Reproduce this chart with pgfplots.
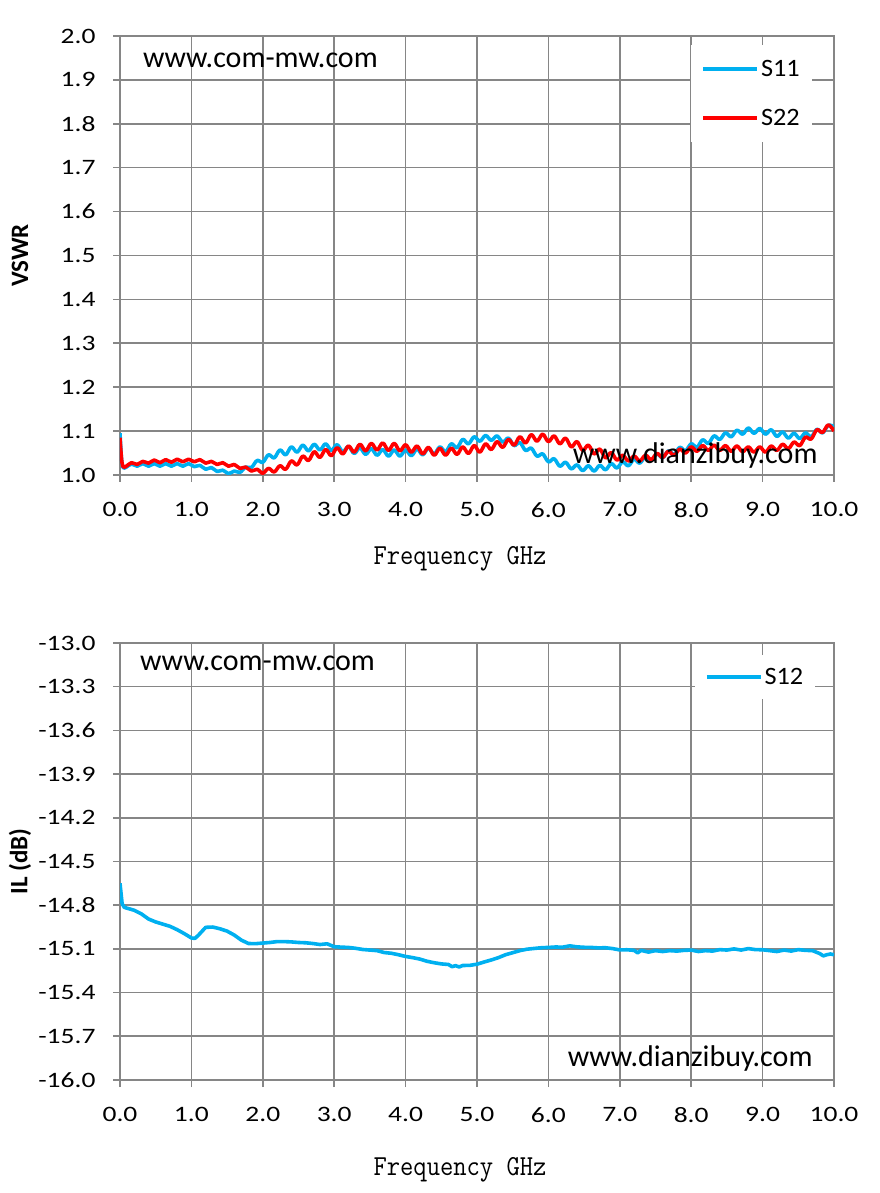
\documentclass[border=0pt]{standalone}
\usepackage{fontspec}
\setmainfont{Carlito}
\newfontfamily\tickfont{Carlito}[FakeStretch=1.25]
\newfontfamily\legfont{Carlito}[FakeStretch=1.05]
\usepackage{graphicx}
\usepackage{pgfplots}
\pgfplotsset{compat=1.18}
\definecolor{gridgray}{HTML}{868686}
\definecolor{sblue}{HTML}{00B0F0}
\definecolor{sred}{HTML}{FF0000}
\pgfplotsset{base/.style={
  scale only axis, width=714pt, xmin=0, xmax=10,
  xtick={0,1,2,3,4,5,6,7,8,9,10},
  grid=major, grid style={color=gridgray, line width=1.6pt},
  axis line style={gridgray, line width=1.6pt},
  tick style={gridgray, line width=1.6pt},
  major tick length=7pt, tick align=outside, tick pos=left,
  /pgf/number format/assume math mode=true,
  /pgf/number format/.cd, fixed, fixed zerofill, precision=1, /pgfplots/.cd,
  ticklabel style={font=\tickfont\fontsize{22}{24}\selectfont},
  yticklabel style={xshift=-14pt},
  xticklabel style={yshift=-17pt},
  ylabel style={at={(rel axis cs:0,0.5)}, anchor=center, yshift=100pt, font=\bfseries\fontsize{25}{28}\selectfont},
  xlabel style={at={(rel axis cs:0.5,0)}, anchor=center, xshift=-17pt, font=\fontsize{29}{30}\selectfont\ttfamily},
  legend style={draw=none, fill=white, anchor=north west, font=\legfont\fontsize{25}{28}\selectfont, inner xsep=10pt, inner ysep=13pt, row sep=27pt, column sep=0pt, cells={anchor=west}},
  legend image code/.code={\draw[#1, line width=3.6pt] (0pt,0pt) -- (54pt,0pt);},
}}
\begin{document}
\begin{tikzpicture}
\path[use as bounding box] (0,0) rectangle (879pt,1193pt);
\begin{axis}[base, at={(120pt,718pt)}, anchor=south west, height=439pt,
  ymin=1, ymax=2, ytick={1,1.1,1.2,1.3,1.4,1.5,1.6,1.7,1.8,1.9,2},
  ylabel={VSWR}, xlabel={\scalebox{0.89}[1]{Frequency GHz}},
  xlabel style={yshift=-84pt},
  legend style={at={(rel axis cs:0.80,0.979)}}]
\addplot[sblue, line width=3.6pt, smooth, tension=0.6, line join=round] coordinates {
(0,1.095)(0.02,1.040)(0.04,1.018)(0.08,1.017)(0.16,1.025)(0.24,1.020)(0.32,1.026)(0.40,1.020)(0.48,1.026)(0.56,1.020)(0.64,1.026)(0.72,1.020)(0.80,1.026)(0.88,1.020)(0.96,1.026)
(1.04,1.019)(1.12,1.022)(1.20,1.013)(1.28,1.017)(1.36,1.008)(1.44,1.011)(1.52,1.003)(1.60,1.009)(1.68,1.006)(1.76,1.018)(1.84,1.017)(1.92,1.033)
(2.00,1.029)(2.08,1.046)(2.16,1.039)(2.24,1.057)(2.32,1.046)(2.40,1.064)(2.48,1.052)(2.56,1.068)(2.64,1.055)(2.72,1.070)(2.80,1.057)(2.88,1.071)(2.96,1.056)
(3.04,1.069)(3.12,1.053)(3.20,1.065)(3.28,1.049)(3.36,1.062)(3.44,1.047)(3.52,1.060)(3.60,1.045)(3.68,1.058)(3.76,1.043)(3.84,1.057)(3.92,1.043)
(4.00,1.057)(4.08,1.044)(4.16,1.059)(4.24,1.046)(4.32,1.061)(4.40,1.048)(4.48,1.064)(4.56,1.053)(4.64,1.071)(4.72,1.062)(4.80,1.081)(4.88,1.071)(4.96,1.087)
(5.04,1.077)(5.12,1.090)(5.20,1.079)(5.28,1.089)(5.36,1.075)(5.44,1.084)(5.52,1.067)(5.60,1.074)(5.68,1.056)(5.76,1.061)(5.84,1.043)(5.92,1.048)
(6.00,1.030)(6.08,1.037)(6.16,1.020)(6.24,1.029)(6.32,1.014)(6.40,1.023)(6.48,1.010)(6.56,1.021)(6.64,1.009)(6.72,1.022)(6.80,1.012)(6.88,1.026)(6.96,1.016)
(7.04,1.030)(7.12,1.021)(7.20,1.036)(7.28,1.027)(7.36,1.042)(7.44,1.033)(7.52,1.048)(7.60,1.039)(7.68,1.055)(7.76,1.047)(7.84,1.063)(7.92,1.055)
(8.00,1.071)(8.08,1.063)(8.16,1.080)(8.24,1.072)(8.32,1.089)(8.40,1.081)(8.48,1.096)(8.56,1.087)(8.64,1.102)(8.72,1.093)(8.80,1.107)(8.88,1.095)(8.96,1.106)
(9.04,1.093)(9.12,1.103)(9.20,1.088)(9.28,1.098)(9.36,1.084)(9.44,1.095)(9.52,1.083)(9.60,1.096)(9.68,1.087)(9.76,1.104)(9.84,1.096)(9.92,1.113)(10.00,1.110)
};
\addlegendentry{S11}
\addplot[sred, line width=3.6pt, smooth, tension=0.6, line join=round] coordinates {
(0,1.085)(0.02,1.040)(0.04,1.020)(0.08,1.019)(0.16,1.028)(0.24,1.024)(0.32,1.031)(0.40,1.027)(0.48,1.034)(0.56,1.028)(0.64,1.035)(0.72,1.029)(0.80,1.036)(0.88,1.030)(0.96,1.036)
(1.04,1.030)(1.12,1.035)(1.20,1.027)(1.28,1.031)(1.36,1.024)(1.44,1.028)(1.52,1.020)(1.60,1.024)(1.68,1.015)(1.76,1.018)(1.84,1.009)(1.92,1.013)
(2.00,1.004)(2.08,1.015)(2.16,1.007)(2.24,1.021)(2.32,1.013)(2.40,1.032)(2.48,1.023)(2.56,1.043)(2.64,1.033)(2.72,1.053)(2.80,1.040)(2.88,1.058)(2.96,1.044)
(3.04,1.062)(3.12,1.048)(3.20,1.066)(3.28,1.052)(3.36,1.070)(3.44,1.055)(3.52,1.072)(3.60,1.057)(3.68,1.073)(3.76,1.056)(3.84,1.072)(3.92,1.055)
(4.00,1.069)(4.08,1.052)(4.16,1.066)(4.24,1.048)(4.32,1.063)(4.40,1.045)(4.48,1.061)(4.56,1.045)(4.64,1.061)(4.72,1.047)(4.80,1.064)(4.88,1.049)(4.96,1.067)
(5.04,1.052)(5.12,1.071)(5.20,1.058)(5.28,1.076)(5.36,1.063)(5.44,1.081)(5.52,1.068)(5.60,1.087)(5.68,1.073)(5.76,1.092)(5.84,1.077)(5.92,1.093)
(6.00,1.076)(6.08,1.089)(6.16,1.071)(6.24,1.084)(6.32,1.064)(6.40,1.076)(6.48,1.056)(6.56,1.068)(6.64,1.048)(6.72,1.059)(6.80,1.039)(6.88,1.051)(6.96,1.034)
(7.04,1.045)(7.12,1.032)(7.20,1.043)(7.28,1.032)(7.36,1.045)(7.44,1.035)(7.52,1.049)(7.60,1.040)(7.68,1.054)(7.76,1.045)(7.84,1.059)(7.92,1.050)
(8.00,1.064)(8.08,1.054)(8.16,1.067)(8.24,1.056)(8.32,1.068)(8.40,1.056)(8.48,1.067)(8.56,1.054)(8.64,1.066)(8.72,1.053)(8.80,1.064)(8.88,1.052)(8.96,1.064)
(9.04,1.052)(9.12,1.066)(9.20,1.056)(9.28,1.070)(9.36,1.060)(9.44,1.075)(9.52,1.067)(9.60,1.086)(9.68,1.082)(9.76,1.103)(9.84,1.097)(9.92,1.114)(10.00,1.100)
};
\addlegendentry{S22}
\node[anchor=base west, inner sep=0pt, font=\fontsize{30}{32}\selectfont] at (rel axis cs:0.032,0.929) {www.com-mw.com};
\node[anchor=base west, inner sep=0pt, font=\fontsize{30}{32}\selectfont] at (rel axis cs:0.634,0.027) {www.dianzibuy.com};
\end{axis}
\begin{axis}[base, at={(120pt,113pt)}, anchor=south west, height=437pt,
  ymin=-16, ymax=-13, ytick={-16,-15.7,-15.4,-15.1,-14.8,-14.5,-14.2,-13.9,-13.6,-13.3,-13},
  ylabel={IL (dB)}, xlabel={\scalebox{0.89}[1]{Frequency GHz}},
  xlabel style={yshift=-90pt},
  legend style={at={(rel axis cs:0.805,0.973)}, inner ysep=11pt}]
\addplot[sblue, line width=3.6pt, line join=round] coordinates {
(0.00,-14.650)(0.03,-14.790)(0.06,-14.815)(0.2,-14.835)(0.3,-14.860)(0.4,-14.895)(0.5,-14.915)(0.6,-14.930)(0.7,-14.945)(0.8,-14.968)(0.9,-14.995)
(1.0,-15.025)(1.05,-15.028)(1.1,-15.005)(1.2,-14.952)(1.3,-14.950)(1.4,-14.962)(1.5,-14.978)(1.6,-15.005)(1.7,-15.040)(1.8,-15.063)(1.9,-15.064)
(2.0,-15.060)(2.1,-15.056)(2.2,-15.050)(2.3,-15.050)(2.4,-15.052)(2.5,-15.056)(2.6,-15.058)(2.7,-15.063)(2.8,-15.070)(2.9,-15.065)
(3.0,-15.085)(3.1,-15.088)(3.2,-15.090)(3.3,-15.096)(3.4,-15.104)(3.5,-15.108)(3.6,-15.112)(3.7,-15.125)(3.8,-15.130)(3.9,-15.140)
(4.0,-15.152)(4.1,-15.160)(4.2,-15.170)(4.3,-15.185)(4.4,-15.195)(4.5,-15.203)(4.6,-15.207)(4.65,-15.222)(4.7,-15.215)(4.75,-15.224)(4.8,-15.214)(4.9,-15.213)
(5.0,-15.205)(5.1,-15.190)(5.2,-15.176)(5.3,-15.160)(5.4,-15.140)(5.5,-15.126)(5.6,-15.112)(5.7,-15.102)(5.8,-15.097)(5.9,-15.092)
(6.0,-15.090)(6.1,-15.087)(6.2,-15.088)(6.3,-15.079)(6.4,-15.086)(6.5,-15.089)(6.6,-15.090)(6.7,-15.093)(6.8,-15.092)(6.9,-15.098)
(7.0,-15.107)(7.1,-15.106)(7.2,-15.110)(7.25,-15.127)(7.3,-15.110)(7.4,-15.122)(7.5,-15.112)(7.6,-15.118)(7.7,-15.112)(7.8,-15.115)(7.9,-15.110)
(8.0,-15.108)(8.1,-15.118)(8.2,-15.112)(8.3,-15.115)(8.4,-15.105)(8.5,-15.108)(8.6,-15.100)(8.7,-15.108)(8.8,-15.098)(8.9,-15.105)
(9.0,-15.106)(9.1,-15.112)(9.2,-15.118)(9.3,-15.108)(9.4,-15.115)(9.5,-15.105)(9.6,-15.110)(9.7,-15.112)(9.8,-15.132)(9.85,-15.148)(9.9,-15.140)(9.95,-15.135)(10.0,-15.140)
};
\addlegendentry{S12}
\node[anchor=base west, inner sep=0pt, font=\fontsize{30}{32}\selectfont] at (rel axis cs:0.028,0.936) {www.com-mw.com};
\node[anchor=base west, inner sep=0pt, font=\fontsize{30}{32}\selectfont] at (rel axis cs:0.627,0.032) {www.dianzibuy.com};
\end{axis}
\end{tikzpicture}
\end{document}
